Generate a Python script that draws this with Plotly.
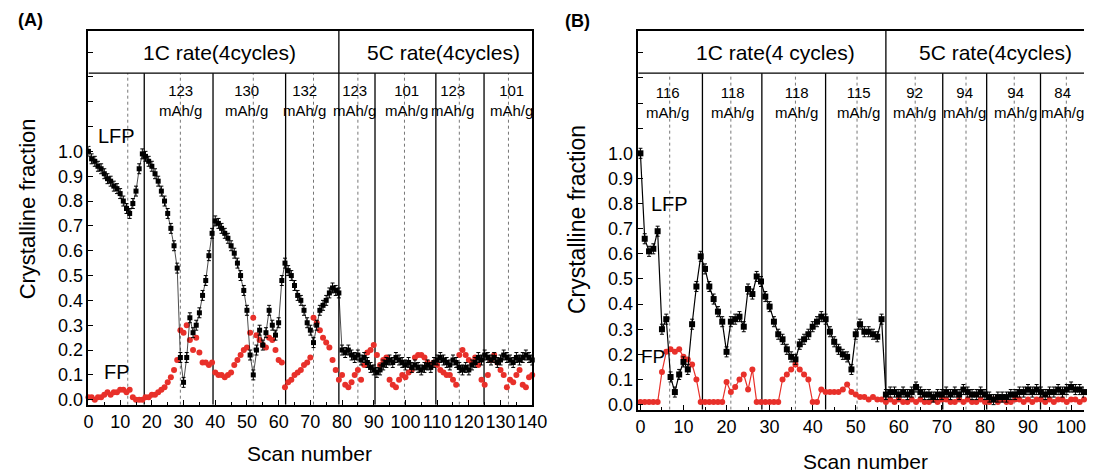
import plotly.graph_objects as go

# ---------------- data : panel (A) ----------------
scan_a = list(range(0, 141))
lfp_a = [1.00, 0.97, 0.96, 0.94, 0.93, 0.91, 0.89, 0.88, 0.86, 0.85,
         0.83, 0.80, 0.77, 0.75, 0.79, 0.84, 0.93, 0.99, 0.98, 0.96,
         0.94, 0.91, 0.88, 0.84, 0.80, 0.75, 0.69, 0.62, 0.53, 0.17,
         0.07, 0.17, 0.33, 0.27, 0.30, 0.35, 0.42, 0.48, 0.58, 0.67,
         0.72, 0.71, 0.69, 0.67, 0.65, 0.62, 0.59, 0.55, 0.50, 0.44,
         0.36, 0.18, 0.10, 0.20, 0.28, 0.22, 0.27, 0.36, 0.30, 0.26,
         0.31, 0.48, 0.55, 0.52, 0.50, 0.46, 0.42, 0.40, 0.36, 0.31,
         0.28, 0.23, 0.30, 0.36, 0.38, 0.40, 0.43, 0.45, 0.44, 0.43,
         0.20, 0.19, 0.20, 0.18, 0.17, 0.18, 0.16, 0.17, 0.15, 0.13,
         0.12, 0.11, 0.12, 0.14, 0.15, 0.16, 0.15, 0.17, 0.16, 0.15,
         0.14, 0.15, 0.13, 0.14, 0.13, 0.12, 0.13, 0.14, 0.13, 0.15,
         0.16, 0.17, 0.16, 0.15, 0.14, 0.16, 0.15, 0.13, 0.12, 0.13,
         0.12, 0.14, 0.15, 0.17, 0.16, 0.18, 0.17, 0.16, 0.17, 0.15,
         0.16, 0.18, 0.17, 0.16, 0.15, 0.17, 0.16, 0.17, 0.18, 0.17,
         0.16]
fp_a = [0.01, 0.01, 0.00, 0.01, 0.01, 0.02, 0.03, 0.02, 0.03, 0.03,
        0.04, 0.04, 0.03, 0.04, 0.01, 0.00, 0.00, 0.00, 0.01, 0.01,
        0.02, 0.02, 0.03, 0.04, 0.05, 0.07, 0.09, 0.12, 0.16, 0.28,
        0.27, 0.30, 0.24, 0.20, 0.25, 0.19, 0.15, 0.15, 0.14, 0.15,
        0.11, 0.10, 0.10, 0.09, 0.10, 0.11, 0.14, 0.16, 0.18, 0.20,
        0.21, 0.27, 0.33, 0.26, 0.24, 0.22, 0.21, 0.25, 0.24, 0.20,
        0.16, 0.15, 0.05, 0.07, 0.08, 0.10, 0.11, 0.12, 0.14, 0.15,
        0.17, 0.33, 0.31, 0.28, 0.25, 0.23, 0.21, 0.16, 0.12, 0.08,
        0.10, 0.06, 0.05, 0.07, 0.10, 0.12, 0.08, 0.14, 0.19, 0.20,
        0.22, 0.18, 0.14, 0.16, 0.17, 0.08, 0.06, 0.05, 0.08, 0.10,
        0.09, 0.11, 0.12, 0.17, 0.18, 0.18, 0.17, 0.15, 0.14, 0.15,
        0.14, 0.12, 0.11, 0.10, 0.10, 0.08, 0.06, 0.18, 0.20, 0.18,
        0.16, 0.15, 0.17, 0.14, 0.08, 0.06, 0.10, 0.16, 0.18, 0.15,
        0.12, 0.10, 0.05, 0.08, 0.07, 0.10, 0.12, 0.06, 0.05, 0.09,
        0.10]

# ---------------- data : panel (B) ----------------
scan_b = list(range(0, 104))
lfp_b = [1.00, 0.66, 0.61, 0.62, 0.69, 0.30, 0.34, 0.11, 0.05, 0.12,
         0.17, 0.14, 0.32, 0.47, 0.59, 0.54, 0.47, 0.42, 0.37, 0.33,
         0.21, 0.33, 0.34, 0.35, 0.31, 0.46, 0.44, 0.51, 0.49, 0.43,
         0.39, 0.33, 0.28, 0.26, 0.22, 0.19, 0.18, 0.24, 0.26, 0.28,
         0.31, 0.33, 0.35, 0.34, 0.29, 0.25, 0.22, 0.20, 0.19, 0.14,
         0.28, 0.32, 0.29, 0.29, 0.28, 0.27, 0.34, 0.04, 0.05, 0.05,
         0.04, 0.05, 0.04, 0.05, 0.07, 0.05, 0.04, 0.04, 0.03, 0.04,
         0.04, 0.05, 0.04, 0.05, 0.04, 0.06, 0.05, 0.04, 0.04, 0.05,
         0.04, 0.03, 0.02, 0.03, 0.03, 0.03, 0.04, 0.04, 0.05, 0.05,
         0.06, 0.05, 0.06, 0.05, 0.04, 0.05, 0.05, 0.06, 0.05, 0.06,
         0.07, 0.06, 0.06, 0.05]
fp_b = [0.01, 0.01, 0.01, 0.01, 0.01, 0.13, 0.21, 0.22, 0.21, 0.22,
        0.19, 0.18, 0.16, 0.10, 0.01, 0.01, 0.01, 0.01, 0.01, 0.01,
        0.09, 0.05, 0.07, 0.10, 0.12, 0.06, 0.14, 0.01, 0.01, 0.01,
        0.01, 0.01, 0.01, 0.10, 0.12, 0.14, 0.16, 0.14, 0.12, 0.10,
        0.01, 0.01, 0.06, 0.05, 0.05, 0.05, 0.05, 0.06, 0.08, 0.05,
        0.04, 0.03, 0.03, 0.02, 0.03, 0.02, 0.02, 0.01, 0.02, 0.01,
        0.02, 0.01, 0.01, 0.02, 0.01, 0.02, 0.01, 0.01, 0.02, 0.01,
        0.02, 0.02, 0.01, 0.01, 0.02, 0.01, 0.02, 0.01, 0.01, 0.02,
        0.01, 0.01, 0.02, 0.01, 0.02, 0.01, 0.01, 0.02, 0.02, 0.01,
        0.02, 0.01, 0.02, 0.02, 0.01, 0.02, 0.01, 0.02, 0.02, 0.01,
        0.02, 0.02, 0.01, 0.02]

# ---------------- ticks / annotations ----------------
x_ticks_a = list(range(0, 141, 10))
x_ticks_b = list(range(0, 101, 10))
y_tick_vals = [0.0, 0.1, 0.2, 0.3, 0.4, 0.5, 0.6, 0.7, 0.8, 0.9, 1.0, 1.1, 1.2, 1.3, 1.4]
y_tick_text = ["0.0", "0.1", "0.2", "0.3", "0.4", "0.5", "0.6", "0.7", "0.8", "0.9", "1.0", "", "", "", ""]

cycle_bounds_a = [17.6, 39.3, 62.2, 90.4, 109.6, 124.8]
rate_divider_a = 79
mid_lines_a = [12.4, 29, 52, 71, 85, 99.7, 117, 132.5]
cap_pos_a = [29, 50, 68, 84, 100.3, 115, 133.4]
cap_text_a = ["123", "130", "132", "123", "101", "123", "101"]

cycle_bounds_b = [14.4, 28.2, 43, 70.2, 80.4, 92.9]
rate_divider_b = 57
mid_lines_b = [6.8, 21, 36, 50.3, 63.8, 75.6, 86.8, 98.9]
cap_pos_b = [6.2, 21.4, 36.2, 50.6, 63.6, 75.2, 87.2, 98]
cap_text_b = ["116", "118", "118", "115", "92", "94", "94", "84"]

RED = "#e8302a"
FONT = "Arial, Liberation Sans, sans-serif"
W, H = 1099, 475

fig = go.Figure()

# panel A
fig.add_trace(go.Scatter(x=scan_a, y=fp_a, mode="markers", xaxis="x", yaxis="y",
                         marker=dict(symbol="circle", size=6, color=RED),
                         cliponaxis=False))
fig.add_trace(go.Scatter(x=scan_a, y=lfp_a, mode="lines+markers", xaxis="x", yaxis="y",
                         line=dict(color="black", width=0.7),
                         marker=dict(symbol="square", size=5, color="black"),
                         error_y=dict(type="constant", value=0.02, color="black", thickness=1, width=2),
                         cliponaxis=False))
# panel B
fig.add_trace(go.Scatter(x=scan_b, y=fp_b, mode="lines+markers", xaxis="x2", yaxis="y2",
                         line=dict(color=RED, width=1.2),
                         marker=dict(symbol="circle", size=6, color=RED),
                         cliponaxis=False))
fig.add_trace(go.Scatter(x=scan_b, y=lfp_b, mode="lines+markers", xaxis="x2", yaxis="y2",
                         line=dict(color="black", width=1.2),
                         marker=dict(symbol="square", size=6, color="black"),
                         error_y=dict(type="constant", value=0.02, color="black", thickness=1, width=2),
                         cliponaxis=False))

# axis geometry (pixels -> paper)
def px_x(p):
    return p / W

def px_y(p):
    return 1 - p / H

ya_range = [-0.02, 1.486]
yb_range = [-0.02, 1.488]
head_a = 1.315
head_b = 1.319

common_x = dict(showline=True, linecolor="black", linewidth=1.5, mirror=True, showgrid=False,
                zeroline=False, ticks="inside", ticklen=5, tickcolor="black", tickangle=0,
                tickfont=dict(size=18, family=FONT, color="black"),
                minor=dict(ticks="inside", ticklen=3, dtick=5, tickcolor="black"))
common_y = dict(showline=True, linecolor="black", linewidth=1.5, showgrid=False,
                zeroline=False, ticks="inside", ticklen=5, tickcolor="black",
                tickvals=y_tick_vals, ticktext=y_tick_text,
                tickfont=dict(size=18, family=FONT, color="black"))

fig.update_layout(
    width=W, height=H, margin=dict(l=0, r=0, t=0, b=0),
    paper_bgcolor="white", plot_bgcolor="white", showlegend=False,
    font=dict(family=FONT, color="black"),
    xaxis=dict(domain=[px_x(85), px_x(537)], range=[0, 140], tickvals=x_ticks_a,
               anchor="y", **common_x),
    yaxis=dict(domain=[px_y(409), px_y(31)], range=ya_range, anchor="x", mirror=True, **common_y),
    xaxis2=dict(domain=[px_x(645), 1.0], range=[-0.5, 103], tickvals=x_ticks_b,
                anchor="y2", **common_x),
    yaxis2=dict(domain=[px_y(414), px_y(31)], range=yb_range, anchor="x2", mirror=False, **common_y),
)

shapes = []
def vline(xref, yref, x, y0, y1, dash="solid", color="black", width=1.3):
    shapes.append(dict(type="line", xref=xref, yref=yref, x0=x, x1=x, y0=y0, y1=y1,
                       line=dict(color=color, width=width, dash=dash), layer="below"))

for xv in mid_lines_a:
    vline("x", "y", xv, ya_range[0], head_a, dash="dot", color="#777777", width=1)
for xv in cycle_bounds_a:
    vline("x", "y", xv, ya_range[0], head_a)
vline("x", "y", rate_divider_a, ya_range[0], ya_range[1])
shapes.append(dict(type="line", xref="x", yref="y", x0=0, x1=140, y0=head_a, y1=head_a,
                   line=dict(color="black", width=1.3)))

for xv in mid_lines_b:
    vline("x2", "y2", xv, yb_range[0], head_b, dash="dot", color="#777777", width=1)
for xv in cycle_bounds_b:
    vline("x2", "y2", xv, yb_range[0], head_b)
vline("x2", "y2", rate_divider_b, yb_range[0], yb_range[1])
shapes.append(dict(type="line", xref="x2", yref="y2", x0=-0.5, x1=103, y0=head_b, y1=head_b,
                   line=dict(color="black", width=1.3)))
fig.update_layout(shapes=shapes)

ann = []
def text(x, y, s, size, xref="paper", yref="paper", angle=0, bold=False):
    ann.append(dict(x=x, y=y, xref=xref, yref=yref, text=("<b>%s</b>" % s) if bold else s,
                    showarrow=False, textangle=angle, xanchor="center", yanchor="middle",
                    font=dict(size=size, family=FONT, color="black")))

text(px_x(26), px_y(20), "(A)", 18, bold=True)
text(px_x(583), px_y(21), "(B)", 18, bold=True)
text(px_x(218), px_y(53), "1C rate(4cycles)", 21)
text(px_x(447), px_y(53), "5C rate(4cycles)", 21)
text(px_x(785), px_y(53), "1C rate(4 cycles)", 21)
text(px_x(1009), px_y(53), "5C rate(4cycles)", 21)
for xv, t in zip(cap_pos_a, cap_text_a):
    text(xv, px_y(102), t + "<br>mAh/g", 15, xref="x")
for xv, t in zip(cap_pos_b, cap_text_b):
    text(xv, px_y(104), t + "<br>mAh/g", 15, xref="x2")
text(9, 1.06, "LFP", 20, xref="x", yref="y")
text(9, 0.11, "FP", 20, xref="x", yref="y")
text(6.8, 0.80, "LFP", 20, xref="x2", yref="y2")
text(3, 0.19, "FP", 19, xref="x2", yref="y2")
text(px_x(23), px_y(211), "Crystalline fraction", 22, angle=-90)
text(px_x(582), px_y(222), "Crystalline fraction", 23, angle=-90)
text(px_x(310), px_y(458), "Scan number", 21)
text(px_x(876), px_y(466), "Scan number", 21)
fig.update_layout(annotations=ann)

fig.write_html("out.html")
